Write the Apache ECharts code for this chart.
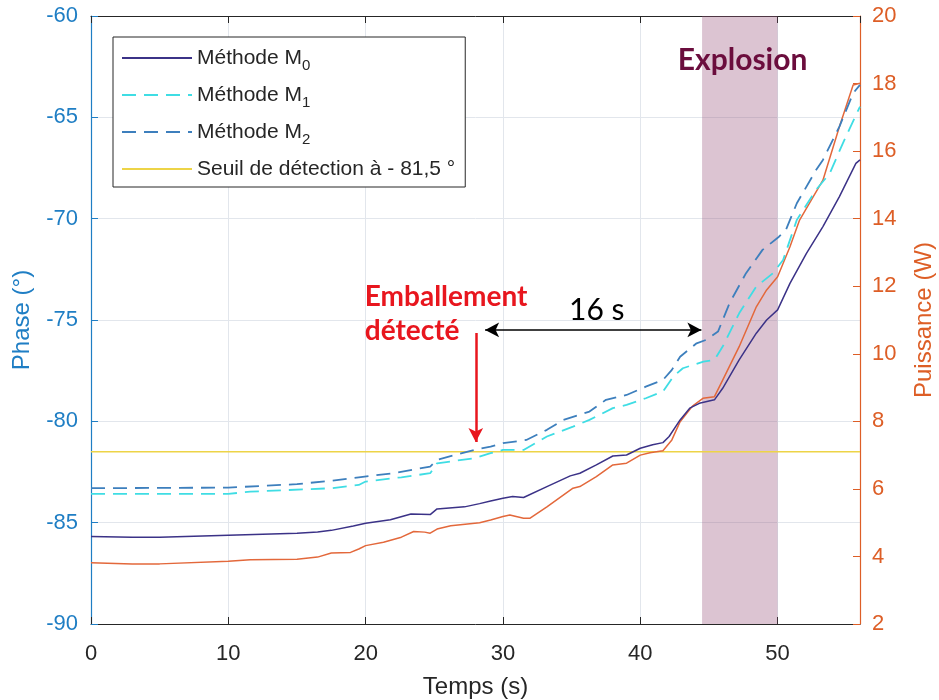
<!DOCTYPE html>
<html>
<head>
<meta charset="utf-8">
<script src="https://cdn.jsdelivr.net/npm/echarts@6/dist/echarts.min.js"></script>
<style>html,body{margin:0;padding:0;background:#fff;}#c{width:939px;height:700px;}</style>
</head>
<body>
<div id="c"></div>
<script>
// ---- Data ----
const m0T = [0,3,5,10,15,16.5,17.5,19.1,20,21.8,23.3,24.7,25.2,27.2,28.3,29.1,30,30.7,31.5,33.2,34.9,35.6,36.8,38.0,39.0,40,40.9,41.65,42.1,42.9,43.6,44.3,45.4,46.0,47.2,48.45,49.2,50.0,50.9,52.1,53.3,54.5,55.7,56];
const m0V = [-85.68,-85.72,-85.72,-85.62,-85.52,-85.46,-85.38,-85.16,-85.03,-84.86,-84.57,-84.60,-84.32,-84.22,-84.06,-83.93,-83.79,-83.71,-83.76,-83.22,-82.69,-82.56,-82.15,-81.71,-81.66,-81.33,-81.16,-81.05,-80.75,-79.93,-79.35,-79.11,-78.94,-78.37,-76.97,-75.65,-75.00,-74.50,-73.19,-71.71,-70.39,-68.91,-67.27,-67.10];

const m1T = [0,10,11.6,17.5,19.5,20,22.6,24.7,25.2,27.9,29.1,30,31.5,33.2,35.1,36.3,38,39,40.4,41.65,42.4,43.1,44.6,45.4,46.0,47.2,48.45,49.66,50.4,51.4,52.8,53.8,54.75,56];
const m1V = [-83.58,-83.58,-83.47,-83.30,-83.14,-82.97,-82.76,-82.56,-82.07,-81.82,-81.57,-81.41,-81.41,-80.75,-80.26,-79.93,-79.35,-79.19,-78.86,-78.53,-77.79,-77.38,-77.05,-76.97,-76.31,-74.67,-73.35,-72.69,-72.04,-70.06,-68.58,-67.76,-66.28,-64.47];

const m2T = [0,10,15,17.5,19.5,22,24.7,25.2,27.9,29.1,30,31.7,33.2,34.4,36.3,37.5,39,40.4,41.65,42.3,42.9,44.1,44.8,45.66,46.5,47.7,48.9,50.1,50.6,51.4,52.8,53.3,54.5,55.5,56];
const m2V = [-83.30,-83.27,-83.10,-82.93,-82.76,-82.56,-82.23,-81.90,-81.41,-81.25,-81.08,-80.92,-80.42,-79.93,-79.52,-78.94,-78.70,-78.29,-77.96,-77.46,-76.81,-76.15,-75.98,-75.57,-74.17,-72.69,-71.54,-70.89,-70.56,-69.24,-67.60,-67.10,-65.46,-63.81,-63.40];

const powT = [0,3,5,10,11.6,15,16.5,17.5,18.9,19.5,20,21.3,22.6,23.5,24.3,24.7,25.2,26.2,28.3,29.1,30,30.5,31.5,31.95,33.2,35.1,35.6,36.8,38.0,39.0,40,40.7,41.65,42.3,42.9,43.8,44.56,45.4,46.0,47.2,48.45,49.2,50,50.9,51.6,53.3,54.5,55.5,56];
const powV = [3.81,3.78,3.78,3.86,3.90,3.92,3.98,4.10,4.12,4.22,4.32,4.42,4.57,4.74,4.72,4.69,4.81,4.91,5.00,5.08,5.18,5.23,5.13,5.13,5.47,6.02,6.07,6.36,6.71,6.76,7.00,7.07,7.13,7.45,7.99,8.45,8.68,8.73,9.22,10.21,11.39,11.89,12.28,13.17,13.96,15.14,16.72,17.96,18.01];

const thresholdT = [0,56];
const thresholdValue = -81.5;

const seriesNames = ['Méthode M0','Méthode M1','Méthode M2','Seuil de détection à - 81,5 °'];
const powerName = 'Puissance';

const xTicks = [0,10,20,30,40,50];
const explosionRange = [44.5, 50];

// annotations (data space)
const annotTexts = ['Explosion','16 s','Emballement','détecté'];
const annotPos = [[47.45,-62.17],[36.83,-74.5],[19.94,-73.86],[19.94,-75.54]];
const spanArrow = [[28.7,-75.49],[44.45,-75.49]];
const detectArrow = [[28.02,-75.64],[28.02,-81.02]];

// ---- Chart ----
const zip = (a,b) => a.map((v,i)=>[v,b[i]]);
const BLUE = '#1f7ec4', ORANGE = '#dd5e26', DARK = '#262626';
const FONT = 'Liberation Sans';
const chart = echarts.init(document.getElementById('c'), null, {renderer:'canvas'});

const option = {
  animation:false,
  backgroundColor:'#fff',
  grid:{left:91,right:79,top:16,bottom:76,containLabel:false,outerBoundsMode:'none'},
  legend:{
    orient:'vertical', left:113, top:37,
    padding:[6,10,3,8], itemGap:7, itemWidth:70, itemHeight:14,
    backgroundColor:'#fff', borderColor:DARK, borderWidth:1, borderRadius:0,
    itemStyle:{opacity:0},
    data:seriesNames,
    textStyle:{fontFamily:FONT,fontSize:21,color:DARK,lineHeight:30,
      rich:{s:{fontFamily:FONT,fontSize:15,color:DARK,lineHeight:8,verticalAlign:'bottom'}}},
    formatter:n => n.replace(/M(\d)$/,'M{s|$1}')
  },
  xAxis:[{
    type:'value', min:0, max:56, interval:10, position:'bottom',
    name:'Temps (s)', nameLocation:'middle', nameGap:51,
    nameTextStyle:{fontFamily:FONT,fontSize:24,color:DARK},
    axisLine:{show:true,onZero:false,lineStyle:{color:DARK,width:1}},
    axisTick:{show:true,inside:true,length:7,lineStyle:{color:DARK}},
    axisLabel:{fontFamily:FONT,fontSize:22,color:DARK,margin:19,showMaxLabel:false,
      formatter:v => xTicks.includes(v) ? String(v) : ''},
    splitLine:{show:true,lineStyle:{color:'#e2e6ec',width:1}}
  },{
    type:'value', min:0, max:56, interval:10, position:'top',
    axisLine:{show:true,onZero:false,lineStyle:{color:DARK,width:1}},
    axisTick:{show:true,inside:true,length:7,lineStyle:{color:DARK}},
    axisLabel:{show:false}, splitLine:{show:false}
  }],
  yAxis:[{
    type:'value', min:-90, max:-60, interval:5, position:'left',
    name:'Phase (°)', nameLocation:'middle', nameGap:57,
    nameTextStyle:{fontFamily:FONT,fontSize:24,color:BLUE},
    axisLine:{show:true,onZero:false,lineStyle:{color:BLUE,width:1.2}},
    axisTick:{show:true,inside:true,length:7,lineStyle:{color:BLUE}},
    axisLabel:{fontFamily:FONT,fontSize:22,color:BLUE,margin:13},
    splitLine:{show:true,lineStyle:{color:'#e2e6ec',width:1}}
  },{
    type:'value', min:2, max:20, interval:2, position:'right',
    name:'Puissance (W)', nameLocation:'middle', nameGap:52,
    nameTextStyle:{fontFamily:FONT,fontSize:24,color:ORANGE},
    axisLine:{show:true,onZero:false,lineStyle:{color:ORANGE,width:1.2}},
    axisTick:{show:true,inside:true,length:7,lineStyle:{color:ORANGE}},
    axisLabel:{fontFamily:FONT,fontSize:22,color:ORANGE,margin:12},
    splitLine:{show:false}
  }],
  series:[
    {
      name:'annot', type:'line', data:[], xAxisIndex:0, yAxisIndex:0, silent:true,
      markArea:{silent:true, itemStyle:{color:'rgba(155,86,126,0.35)'},
        data:[[{xAxis:explosionRange[0]},{xAxis:explosionRange[1]}]]},
      markLine:{silent:true, animation:false, label:{show:false}, symbolSize:[11,14],
        data:[
          [{coord:spanArrow[0],symbol:'arrow',lineStyle:{color:'#000',width:1.5,type:'solid'}},
           {coord:spanArrow[1],symbol:'arrow'}],
          [{coord:detectArrow[0],symbol:'none',lineStyle:{color:'#e8161e',width:2.5,type:'solid'}},
           {coord:detectArrow[1],symbol:'arrow'}]
        ]}
    },
    {name:seriesNames[3], type:'line', data:zip(thresholdT,[thresholdValue,thresholdValue]),
      showSymbol:false, symbol:'none', lineStyle:{color:'#edd447',width:1.5}, itemStyle:{color:'#edd447'}},
    {name:powerName, type:'line', yAxisIndex:1, data:zip(powT,powV), showSymbol:false, symbol:'none',
      lineStyle:{color:'#e3683b',width:1.5}, itemStyle:{color:'#e3683b'}},
    {name:seriesNames[1], type:'line', data:zip(m1T,m1V), showSymbol:false, symbol:'none',
      lineStyle:{color:'#3fdde4',width:1.8,type:[14,8]}, itemStyle:{color:'#3fdde4'}},
    {name:seriesNames[2], type:'line', data:zip(m2T,m2V), showSymbol:false, symbol:'none',
      lineStyle:{color:'#3d7fbd',width:1.8,type:[14,8]}, itemStyle:{color:'#3d7fbd'}},
    {name:seriesNames[0], type:'line', data:zip(m0T,m0V), showSymbol:false, symbol:'none',
      lineStyle:{color:'#3b3287',width:1.5}, itemStyle:{color:'#3b3287'}}
  ]
};
chart.setOption(option);

const styles = [
  {font:'bold 30px Lato', fill:'#6b0d3d'},
  {font:'30px Lato', fill:'#000'},
  {font:'bold 28px Lato', fill:'#e8161e'},
  {font:'bold 28px Lato', fill:'#e8161e'}
];
const aligns = ['center','center','left','left'];
const graphics = annotTexts.map((t,i)=>{
  const p = chart.convertToPixel({xAxisIndex:0,yAxisIndex:0}, annotPos[i]);
  return {type:'text', x:p[0], y:p[1], silent:true, z:100,
    style:Object.assign({text:t, textAlign:aligns[i], textVerticalAlign:'middle'}, styles[i])};
});
chart.setOption({graphic:graphics});
</script>
</body>
</html>
